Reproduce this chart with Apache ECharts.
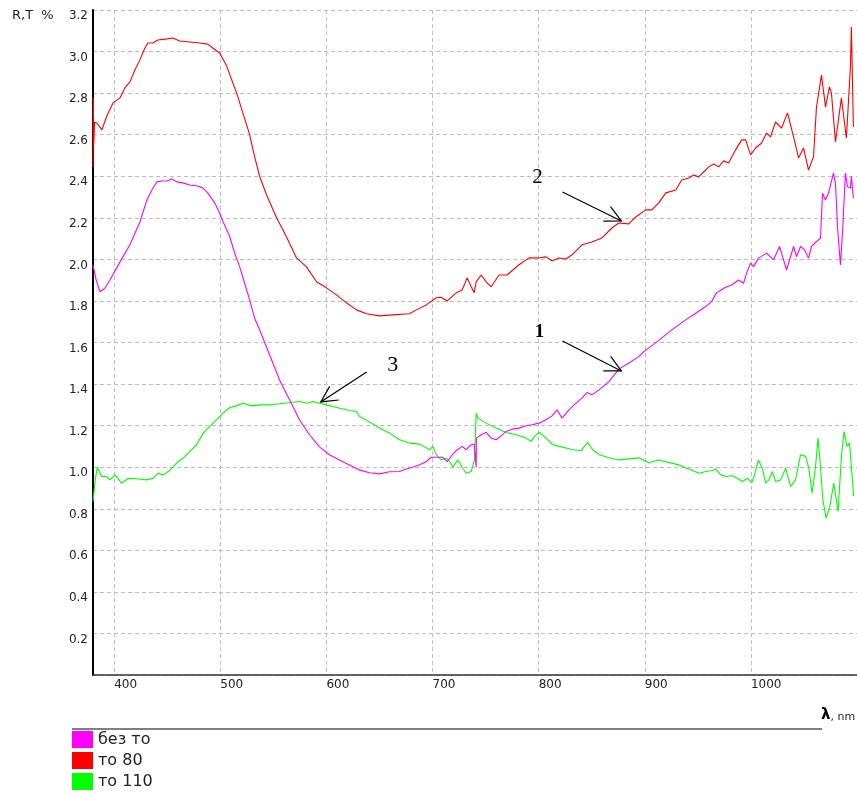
<!DOCTYPE html>
<html><head><meta charset="utf-8">
<script src="https://cdn.jsdelivr.net/npm/echarts@6/dist/echarts.min.js"></script>
<style>html,body{margin:0;padding:0;background:#fff}#c{width:857px;height:794px}</style>
</head><body><div id="c"></div>
<script>
const seriesNames = ['без то', 'то 80', 'то 110'];
const seriesColors = ['#ff00ff', '#ff0000', '#00ff00'];
const xTickValues = [400, 500, 600, 700, 800, 900, 1000];

const bezTo = [
[380,1.974],[383,1.90],[386.6,1.844],[391,1.86],[396,1.901],[405.4,1.988],[414.8,2.070],[424.2,2.180],[430.8,2.286],[435.5,2.334],[440.2,2.373],[444.9,2.377],[449.6,2.377],[454.3,2.387],[459,2.373],[464.6,2.368],[471.2,2.358],[478.7,2.353],[483.4,2.344],[488.1,2.320],[494.7,2.272],[499.4,2.222],[502.5,2.182],[508.8,2.110],[513.5,2.030],[518.2,1.965],[522.9,1.885],[527.6,1.805],[532.3,1.717],[537,1.661],[546.4,1.541],[555.8,1.420],[565.2,1.324],[574.6,1.228],[584,1.156],[593.4,1.098],[602.8,1.060],[612.2,1.035],[621.6,1.011],[631,0.987],[640.5,0.973],[649.9,0.968],[659.3,0.978],[668.7,0.979],[675.3,0.991],[680.9,1.0],[687.5,1.011],[694.1,1.027],[698.8,1.048],[703.5,1.048],[709.2,1.048],[713.9,1.027],[718.6,1.060],[723.3,1.084],[728,1.100],[731.7,1.084],[736.4,1.108],[739.2,1.112],[741.1,1.0],[741.3,1.140],[745.8,1.156],[750.5,1.167],[755.2,1.140],[759.9,1.132],[764.6,1.151],[769.3,1.172],[775,1.183],[781.5,1.188],[788.1,1.199],[793.8,1.204],[800.3,1.212],[806.9,1.228],[812.6,1.247],[817.3,1.276],[822,1.236],[828.6,1.276],[835.2,1.308],[840.8,1.332],[845.5,1.359],[850.2,1.348],[856.8,1.372],[866.2,1.412],[875.6,1.472],[885,1.501],[894.4,1.532],[899.1,1.556],[913.2,1.61],[925.4,1.661],[938.6,1.709],[948,1.741],[957.4,1.773],[963,1.797],[967.7,1.840],[969.6,1.845],[976.2,1.866],[981.8,1.877],[988.4,1.901],[993.1,1.885],[995.9,1.933],[999.7,1.982],[1002.5,1.965],[1007.2,2.006],[1014.8,2.030],[1021.4,1.998],[1027,2.062],[1030.8,1.998],[1033.6,1.949],[1040.2,2.062],[1043,2.013],[1046.8,2.062],[1050.5,2.046],[1054.3,2.006],[1057.1,2.062],[1061.8,2.086],[1065.6,2.102],[1067.5,2.318],[1070.3,2.286],[1073.1,2.318],[1077.8,2.415],[1079.7,2.366],[1081.6,2.158],[1084.4,1.973],[1086.3,2.126],[1089.1,2.415],[1091,2.350],[1093.8,2.342],[1094.7,2.398],[1096.6,2.294]
];

const to80 = [
[380,2.445],[380.3,2.777],[380.7,2.55],[381.5,2.66],[383.7,2.656],[388.4,2.623],[393,2.69],[398.8,2.753],[405.4,2.777],[410,2.825],[414.8,2.854],[419.5,2.911],[424.2,2.960],[428.9,3.017],[431.7,3.041],[436.4,3.041],[441.1,3.056],[449.6,3.061],[455.2,3.065],[461.8,3.051],[471.2,3.046],[480.6,3.041],[488.1,3.036],[492.8,3.017],[499.4,2.993],[506,2.93],[511,2.86],[515.4,2.80],[521.5,2.70],[527.6,2.60],[532,2.50],[537,2.40],[543.6,2.31],[553,2.20],[562.4,2.108],[571.8,2.007],[581.2,1.964],[590.6,1.892],[600,1.863],[609.4,1.829],[618.8,1.791],[628.3,1.757],[637.7,1.738],[649.9,1.728],[662.1,1.733],[678.1,1.738],[684.7,1.757],[694.1,1.781],[703.5,1.815],[708,1.818],[713.8,1.800],[722.3,1.839],[727.9,1.853],[732.6,1.911],[736.4,1.868],[739.2,1.839],[741.1,1.892],[745.8,1.925],[750.5,1.892],[755.2,1.868],[762.7,1.925],[770.2,1.925],[781.5,1.974],[790.9,2.007],[800.3,2.007],[806.9,2.012],[812.5,1.993],[819.1,2.007],[825.7,2.002],[831.4,2.022],[840.8,2.070],[850.2,2.084],[859.6,2.103],[869,2.151],[875.5,2.175],[884.9,2.171],[891.5,2.204],[900.9,2.238],[906.6,2.238],[913.2,2.272],[919.8,2.320],[929.2,2.334],[934.8,2.382],[941.4,2.392],[946.1,2.406],[950.8,2.397],[957.4,2.430],[960.2,2.445],[964.9,2.459],[969.6,2.445],[974.3,2.474],[979,2.464],[985.6,2.527],[991.3,2.575],[995,2.575],[999.7,2.503],[1004.4,2.536],[1010.1,2.560],[1014.8,2.608],[1018.5,2.589],[1023.2,2.661],[1028.9,2.632],[1034.5,2.705],[1040.2,2.589],[1044.9,2.488],[1049.6,2.536],[1054.3,2.430],[1059,2.493],[1061.8,2.733],[1066.5,2.887],[1070.3,2.733],[1074,2.830],[1075.9,2.801],[1079.7,2.565],[1085.3,2.777],[1090,2.584],[1093.8,2.926],[1094.7,3.118],[1096.6,2.637]
];

const to110 = [
[380,0.835],[382.1,0.939],[384.1,1.0],[388.2,0.955],[392.9,0.955],[396,0.939],[400.7,0.963],[407,0.923],[413.2,0.947],[421.1,0.944],[430.5,0.939],[436.8,0.947],[441.5,0.971],[446.2,0.963],[450.9,0.979],[458.8,1.020],[465,1.044],[471.3,1.076],[477.6,1.108],[483.8,1.164],[490.1,1.196],[496.4,1.228],[502.6,1.260],[508.9,1.287],[515.2,1.295],[521.5,1.308],[529.4,1.295],[537.2,1.300],[546.6,1.300],[556,1.305],[574.8,1.316],[581.1,1.308],[587.3,1.316],[593.6,1.308],[599.9,1.300],[606.2,1.292],[612.5,1.284],[621.9,1.273],[628.2,1.268],[631.3,1.244],[640.5,1.218],[649.9,1.189],[659.3,1.165],[668.9,1.132],[678.4,1.116],[687.8,1.111],[697.2,1.084],[700.3,1.100],[703.5,1.060],[708.2,1.035],[712.9,1.044],[716,1.027],[719.1,1.0],[723.8,1.035],[728.5,0.995],[731.7,0.971],[736.4,0.979],[739.5,1.035],[741.1,1.260],[742.6,1.236],[750.5,1.212],[759.9,1.188],[769.4,1.167],[778.8,1.156],[788.2,1.140],[792.9,1.124],[796,1.148],[800.7,1.167],[807,1.140],[813.2,1.108],[819.5,1.100],[825.8,1.092],[832.1,1.084],[840,1.080],[846.2,1.119],[850.9,1.084],[857.2,1.060],[866.2,1.045],[875.6,1.035],[894.4,1.045],[903.8,1.021],[913.2,1.035],[932,1.011],[951.3,0.971],[957.5,0.979],[963.8,0.984],[966.9,0.991],[971.6,0.963],[976.3,0.955],[982.6,0.959],[987.3,0.947],[992,0.931],[996.7,0.947],[1000.9,0.926],[1003,0.955],[1007,1.035],[1010.8,0.995],[1013.9,0.923],[1017,0.939],[1020.2,0.979],[1023.3,0.931],[1028,0.939],[1032.7,0.995],[1037.4,0.907],[1042.1,0.939],[1046.8,1.060],[1051.5,1.052],[1054.6,0.995],[1057.7,0.875],[1060.9,1.003],[1063.3,1.140],[1065.6,1.003],[1067.8,0.843],[1070.9,0.755],[1074.4,0.811],[1078.1,0.923],[1082.2,0.787],[1085.3,1.052],[1087.8,1.172],[1090.6,1.100],[1092.9,1.116],[1096.9,0.860]
];

// annotations (data coordinates)
const arrowStarts = [[822.4, 2.324], [822.4, 1.607], [637.9, 1.458]];
const arrowEnds = [[877.9, 2.185], [877.9, 1.463], [594.6, 1.314]];
const arrowLabels = ['2', '1', '3'];
const arrowLabelPos = [[798.8, 2.396], [800.7, 1.650], [662.4, 1.492]];

const annotFonts = ['normal 21px "Liberation Serif"', 'bold 19px "Liberation Serif"', 'normal 22px "Liberation Serif"'];

const chart = echarts.init(document.getElementById('c'), null, {renderer: 'canvas'});

const lineSeries = [bezTo, to80, to110].map((d, i) => ({
  name: seriesNames[i],
  type: 'line',
  data: d,
  showSymbol: false,
  symbol: 'none',
  smooth: false,
  lineStyle: {color: seriesColors[i], width: 1.1},
  itemStyle: {color: seriesColors[i]},
  z: 3 - i
}));

const annotData = arrowStarts.map((s, i) => [s[0], s[1], arrowEnds[i][0], arrowEnds[i][1], arrowLabelPos[i][0], arrowLabelPos[i][1]]);

const annotSeries = {
  type: 'custom',
  name: 'annot',
  data: annotData,
  encode: {x: [0, 2, 4], y: [1, 3, 5]},
  clip: false,
  silent: true,
  z: 10,
  renderItem: function (params, api) {
    const s = api.coord([api.value(0), api.value(1)]);
    const e = api.coord([api.value(2), api.value(3)]);
    const t = api.coord([api.value(4), api.value(5)]);
    const ang = Math.atan2(s[1] - e[1], s[0] - e[0]);
    const L = 18, a = 0.47;
    const w1 = [e[0] + L * Math.cos(ang + a), e[1] + L * Math.sin(ang + a)];
    const w2 = [e[0] + L * Math.cos(ang - a), e[1] + L * Math.sin(ang - a)];
    const idx = params.dataIndex;
    return {
      type: 'group',
      children: [
        {type: 'line', shape: {x1: s[0], y1: s[1], x2: e[0], y2: e[1]}, style: {stroke: '#000', lineWidth: 1.2}},
        {type: 'polyline', shape: {points: [w1, e, w2]}, style: {stroke: '#000', lineWidth: 1.2, fill: null}},
        {type: 'text', x: t[0], y: t[1], style: {text: arrowLabels[idx], font: annotFonts[idx], fill: '#000', align: 'center', verticalAlign: 'middle'}}
      ]
    };
  }
};

chart.setOption({
  animation: false,
  backgroundColor: '#fff',
  grid: {left: 93, top: 10, width: 765, bottom: 119, containLabel: false},
  xAxis: {
    type: 'value',
    min: 380,
    max: 1100,
    axisLine: {show: true, onZero: false, lineStyle: {color: '#333', width: 1.5}},
    axisTick: {show: false, customValues: xTickValues},
    axisLabel: {
      customValues: xTickValues,
      align: 'left',
      margin: 4,
      color: '#222',
      fontFamily: 'DejaVu Sans',
      fontSize: 12,
      formatter: v => String(v)
    },
    splitLine: {show: true, lineStyle: {color: '#bdbdbd', width: 1, type: [4, 3]}}
  },
  yAxis: {
    type: 'value',
    min: 0,
    max: 3.2,
    interval: 0.2,
    axisLine: {show: true, lineStyle: {color: '#000', width: 2}},
    axisTick: {show: false},
    axisLabel: {
      showMinLabel: false,
      verticalAlign: 'top',
      margin: 5,
      color: '#222',
      fontFamily: 'DejaVu Sans',
      fontSize: 12,
      formatter: v => v.toFixed(1)
    },
    splitLine: {show: true, lineStyle: {color: '#bdbdbd', width: 1, type: [4, 3]}}
  },
  legend: {
    data: seriesNames,
    orient: 'vertical',
    left: 72,
    top: 731,
    padding: 0,
    itemWidth: 21,
    itemHeight: 17,
    itemGap: 4,
    icon: 'rect',
    selectedMode: false,
    textStyle: {fontFamily: 'DejaVu Sans', fontSize: 16, color: '#222'}
  },
  graphic: [
    {type: 'text', left: 12, top: 9, style: {text: 'R,T  %', font: '13px "DejaVu Sans"', fill: '#222'}},
    {type: 'line', shape: {x1: 72, y1: 729, x2: 822, y2: 729}, style: {stroke: '#808080', lineWidth: 2}},
    {type: 'text', left: 821, top: 708, style: {
      text: '{a|λ}{b|, nm}',
      rich: {
        a: {font: 'bold 15px "DejaVu Sans"', fill: '#000'},
        b: {font: '11px "DejaVu Sans"', fill: '#222', padding: [4, 0, 0, 0]}
      }
    }}
  ],
  series: lineSeries.concat([annotSeries])
});
</script>
</body></html>
